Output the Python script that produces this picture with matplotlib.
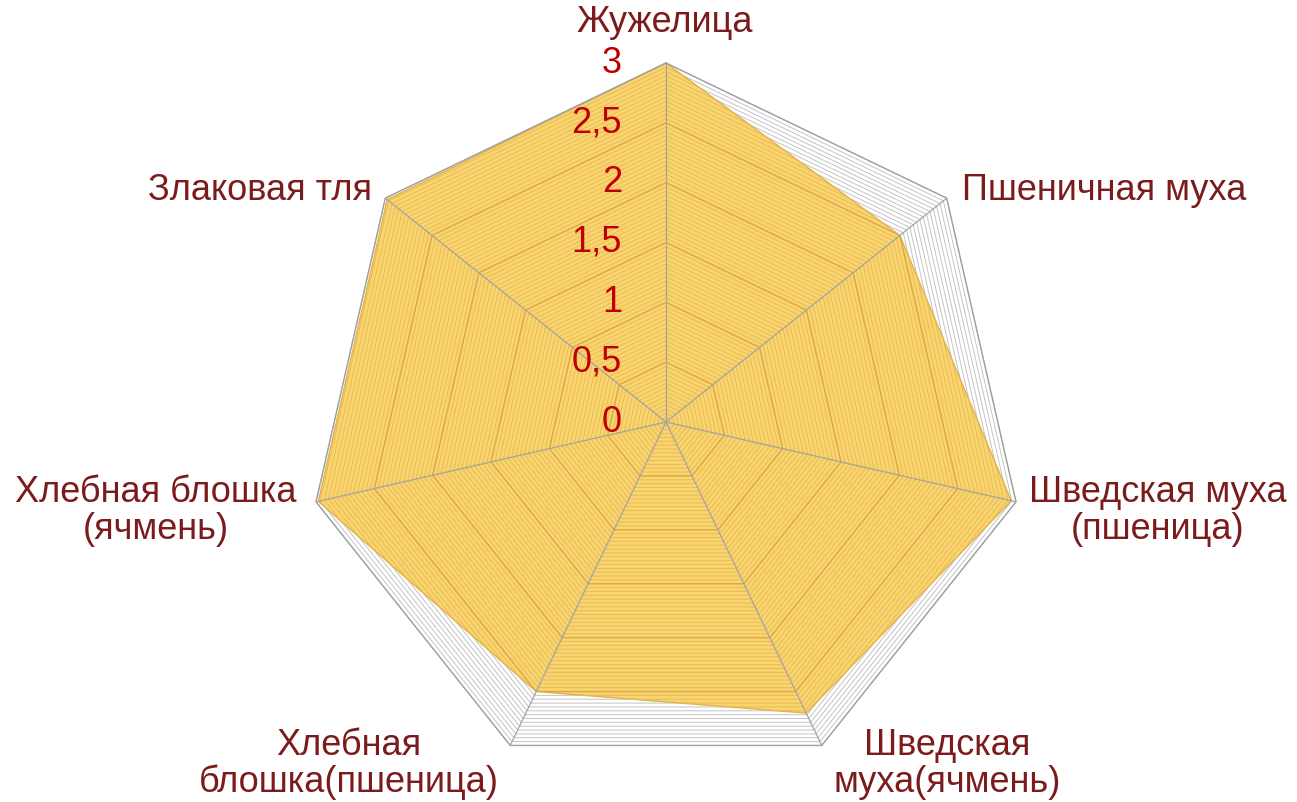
import numpy as np
import matplotlib
matplotlib.use('Agg')
import matplotlib.pyplot as plt
from matplotlib.collections import LineCollection
from matplotlib.patches import Polygon

categories = ['Жужелица', 'Пшеничная муха', 'Шведская муха\n(пшеница)',
              'Шведская\nмуха(ячмень)', 'Хлебная\nблошка(пшеница)',
              'Хлебная блошка\n(ячмень)', 'Злаковая тля']
values = [3.0, 2.5, 2.96, 2.7, 2.5, 2.98, 2.98]
tick_values = [0, 0.5, 1, 1.5, 2, 2.5, 3]
tick_labels = ['0', '0,5', '1', '1,5', '2', '2,5', '3']
r_max = 3.0
n_minor = 84

# layout (pixels)
W, H = 1297, 802
cx, cy, R = 666, 422, 359
label_pos = [(665, 22, 'center'), (962, 190, 'left'), (1158, 511, 'center'),
             (947, 764, 'center'), (349, 764, 'center'), (156, 511, 'center'),
             (372, 190, 'right')]

fig = plt.figure(figsize=(W / 100, H / 100), dpi=100)
ax = fig.add_axes([0, 0, 1, 1])
s = r_max / R
ax.set_xlim(-cx * s, (W - cx) * s)
ax.set_ylim(-(H - cy) * s, cy * s)
ax.set_aspect('equal')
ax.axis('off')

def px(x, y):
    return (x - cx) * s, (cy - y) * s

n = len(categories)
ang = np.pi / 2 - 2 * np.pi * np.arange(n) / n

def ring(r):
    xs = r * np.cos(ang)
    ys = r * np.sin(ang)
    return np.column_stack([np.append(xs, xs[0]), np.append(ys, ys[0])])

levels = np.linspace(0, r_max, n_minor + 1)[1:]
minor_rings = [ring(r) for r in levels]
major_rings = [ring(r) for r in tick_values[1:-1]]

# fill polygon
vals = np.array(values)
poly_xy = np.column_stack([vals * np.cos(ang), vals * np.sin(ang)])
poly = Polygon(poly_xy, closed=True, facecolor='#F9D470', edgecolor='#E2B24A',
               lw=1.0, zorder=2)
ax.add_patch(poly)

# gray gridlines under fill
ax.add_collection(LineCollection(minor_rings, colors='#C4C4C4', linewidths=0.7, zorder=1))
# gold gridlines clipped to fill
clip = Polygon(poly_xy, closed=True, transform=ax.transData)
lc_in = LineCollection(minor_rings, colors='#E8BC50', linewidths=0.7, zorder=3)
lc_in.set_clip_path(clip)
ax.add_collection(lc_in)
lc_maj = LineCollection(major_rings, colors='#DAAA46', linewidths=1.0, zorder=3)
lc_maj.set_clip_path(clip)
ax.add_collection(lc_maj)

# outer ring and spokes
outer = ring(r_max)
ax.plot(outer[:, 0], outer[:, 1], color='#A0A0A0', lw=1.0, zorder=4)
spokes = [[(0, 0), (r_max * np.cos(a), r_max * np.sin(a))] for a in ang]
ax.add_collection(LineCollection(spokes, colors='#A4A4A4', linewidths=0.9, zorder=4))

font = 'Liberation Sans'
# tick labels
for v, t in zip(tick_values, tick_labels):
    x, y = px(622, cy - v / r_max * R)
    ax.text(x, y, t, ha='right', va='center', fontsize=26, color='#C00000',
            family=font, zorder=5)

# category labels
for lab, (lx, ly, ha) in zip(categories, label_pos):
    x, y = px(lx, ly)
    ax.text(x, y, lab, ha=ha, va='center', fontsize=26, color='#7B1B1B',
            family=font, multialignment='center', linespacing=1.08, zorder=5)

fig.savefig('out.png', dpi=100)
